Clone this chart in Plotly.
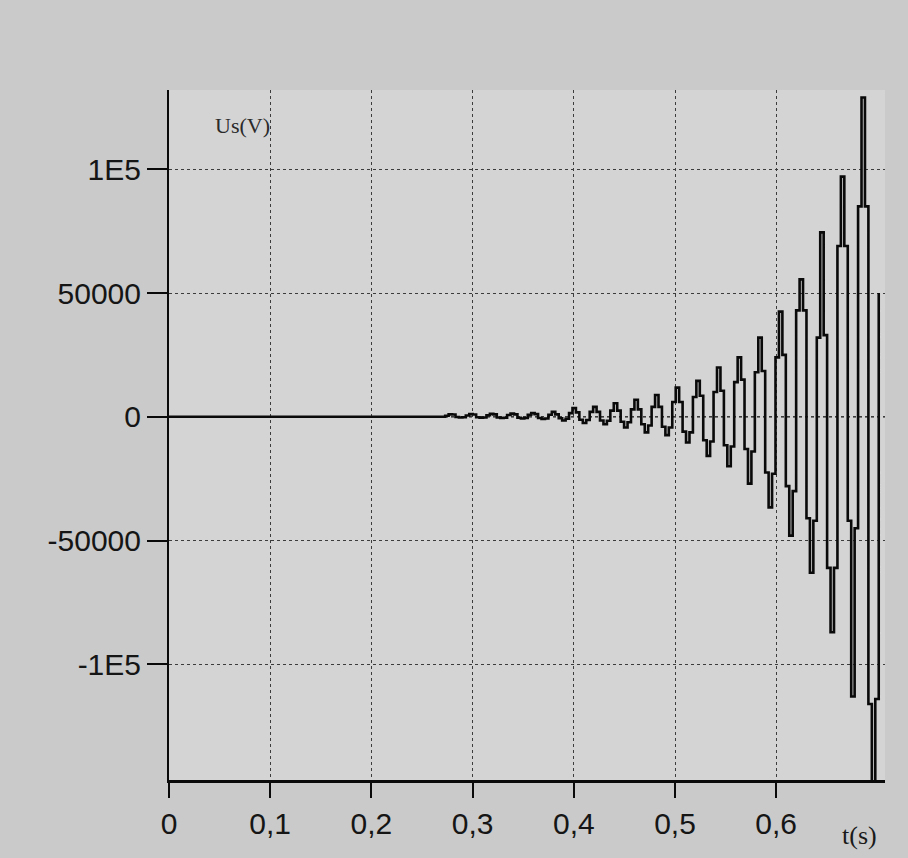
import plotly.graph_objects as go

# ---- data -----------------------------------------------------------------
# sampled voltage Us(V): step (sample-and-hold) signal, 6 samples per ~0.0204 s cycle
T0 = 0.2729          # time of first non-zero sample (s)
DT = 0.0034          # sampling interval (s)
us_samples = [
    400, 1000, 900, -100, -300, -200,
    500, 1100, 900, -200, -400, -300,
    600, 1200, 1000, -300, -500, -400,
    700, 1300, 1000, -400, -700, -500,
    800, 1500, 1100, -500, -900, -700,
    800, 2000, 1000, -600, -1500, -800,
    1500, 3500, 1800, -1200, -2500, -1300,
    2000, 4000, 2000, -1500, -3000, -1600,
    2500, 5500, 2500, -2000, -4300, -2200,
    3000, 6900, 3000, -3000, -6300, -3500,
    4000, 8800, 4000, -4000, -7400, -4300,
    6000, 11800, 6000, -6000, -10400, -6300,
    8000, 14500, 8500, -9500, -15800, -10000,
    10000, 19900, 10500, -11500, -20000, -12000,
    14000, 24000, 15000, -13000, -27000, -14000,
    18000, 32000, 18500, -22500, -36600, -23000,
    24000, 42500, 25000, -28000, -48000, -30000,
    43000, 55500, 43000, -41000, -63000, -42000,
    32000, 74500, 33000, -61000, -87000, -61000,
    69000, 97000, 69000, -42000, -113000, -45000,
    85000, 129000, 85000, -116000, -160000, -114000,
    50000,
]

x_tickvals = [0, 0.1, 0.2, 0.3, 0.4, 0.5, 0.6]
x_ticktext = ["0", "0,1", "0,2", "0,3", "0,4", "0,5", "0,6"]
y_tickvals = [-100000, -50000, 0, 50000, 100000]
y_ticktext = ["-1E5", "-50000", "0", "50000", "1E5"]

X_RANGE = [0, 0.7075]
Y_RANGE = [-146700, 132000]

# ---- build figure ---------------------------------------------------------
t = [0.0] + [T0 + DT * i for i in range(len(us_samples))]
u = [0] + us_samples

fig = go.Figure()
fig.add_trace(go.Scatter(
    x=t, y=u, mode="lines",
    line=dict(shape="hv", color="#0a0a0a", width=2.6),
    hoverinfo="skip", showlegend=False,
))

# zero reference line (dark dotted)
fig.add_shape(type="line", xref="x", yref="y", x0=X_RANGE[0], x1=X_RANGE[1], y0=0, y1=0,
              line=dict(color="#1a1a1a", width=1.6, dash="dot"), layer="below")

tick_font = dict(family="Liberation Sans, Arial, sans-serif", size=30, color="#151515")

fig.update_layout(
    width=908, height=858,
    margin=dict(l=169, r=23, t=90, b=78, pad=0),
    paper_bgcolor="#cacaca",
    plot_bgcolor="#d4d4d4",
    showlegend=False,
    xaxis=dict(
        range=X_RANGE, tickvals=x_tickvals, ticktext=x_ticktext,
        showgrid=True, gridcolor="#3c3c3c", gridwidth=1, griddash="dot",
        zeroline=False, showline=True, linecolor="#0a0a0a", linewidth=2.5,
        ticks="outside", ticklen=15, tickwidth=2, tickcolor="#0a0a0a",
        tickfont=tick_font, ticklabelstandoff=0, automargin=False,
    ),
    yaxis=dict(
        range=Y_RANGE, tickvals=y_tickvals, ticktext=y_ticktext,
        showgrid=True, gridcolor="#3c3c3c", gridwidth=1, griddash="dot",
        zeroline=False, showline=True, linecolor="#0a0a0a", linewidth=2,
        ticks="outside", ticklen=20, tickwidth=2, tickcolor="#0a0a0a",
        tickfont=tick_font, ticklabelstandoff=0, automargin=False,
    ),
    annotations=[
        dict(text="Us(V)", xref="paper", yref="paper", x=0.102, y=0.948,
             showarrow=False, xanchor="center", yanchor="middle",
             font=dict(family="Liberation Serif, Times New Roman, serif", size=22, color="#2a2a2a")),
        dict(text="t(s)", xref="paper", yref="paper", x=0.965, y=-0.080,
             showarrow=False, xanchor="center", yanchor="middle",
             font=dict(family="Liberation Serif, Times New Roman, serif", size=26, color="#1a1a1a")),
    ],
)

fig.write_html("out.html")
